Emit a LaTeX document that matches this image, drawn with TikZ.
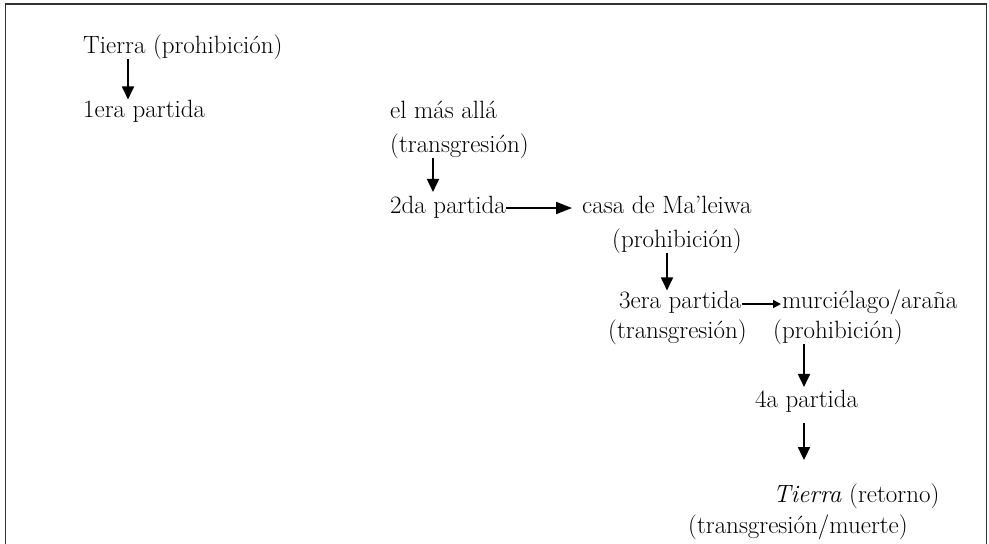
\documentclass[tikz,border=0pt]{standalone}
\usepackage{fontspec}
\usetikzlibrary{arrows.meta}
\tikzset{
  lbl/.style={anchor=base west, inner sep=0pt, font=\fontsize{25}{30}\selectfont},
  arr/.style={line width=1.8pt, -{Triangle[length=13pt,width=12pt]}},
  arrlong/.style={line width=1.8pt, -{Triangle[length=16pt,width=12pt]}},
  arrsmall/.style={line width=1.6pt, -{Triangle[length=8pt,width=8pt]}},
  frame/.style={line width=1.5pt, draw=black!80}
}
\begin{document}
\begin{tikzpicture}[x=1pt,y=-1pt]
\useasboundingbox (0,0) rectangle (989,544);
\draw[frame] (5.5,546) -- (5.5,4) -- (986.5,4) -- (986.5,546);

\node[lbl] (t1) at (83,53) {Tierra (prohibición)};
\node[lbl] (p1) at (83,117) {1era partida};
\node[lbl] (m1) at (390,118) {el más allá};
\node[lbl] (m2) at (390,152) {(transgresión)};
\node[lbl] (p2) at (390,213) {2da partida};
\node[lbl] (c1) at (582,213) {casa de Ma’leiwa};
\node[lbl] (c2) at (612,247) {(prohibición)};
\node[lbl] (p3) at (619,308) {3era partida};
\node[lbl] (b1) at (782,308) {murciélago/araña};
\node[lbl] (p3b) at (608,338) {(transgresión)};
\node[lbl] (b2) at (773,338) {(prohibición)};
\node[lbl] (p4) at (755,407) {4a partida};
\node[lbl] (e1) at (773,502) {\textit{Tierra} (retorno)};
\node[lbl] (e2) at (688,533) {(transgresión/muerte)};

\coordinate (xa) at (128,0);
\coordinate (xb) at (433,0);
\coordinate (xc) at (667,0);
\coordinate (xd) at (804,0);
\coordinate (ya) at (0,208);
\coordinate (yb) at (0,304);

\draw[arr] (t1.south -| xa) -- (p1.north -| xa);
\draw[arr, shorten >=3.5pt] (m2.south -| xb) -- (p2.north -| xb);
\draw[arrlong, shorten >=10pt] (p2.east |- ya) -- (c1.west |- ya);
\draw[arr] (c2.south -| xc) -- (p3.north -| xc);
\draw[arrsmall, shorten <=1pt, shorten >=1pt] (p3.east |- yb) -- (b1.west |- yb);
\draw[arr, shorten >=2.5pt] (b2.south -| xd) -- (p4.north -| xd);
\draw[arr, shorten <=11pt, shorten >=23pt] (p4.south -| xd) -- (e1.north -| xd);
\end{tikzpicture}
\end{document}
